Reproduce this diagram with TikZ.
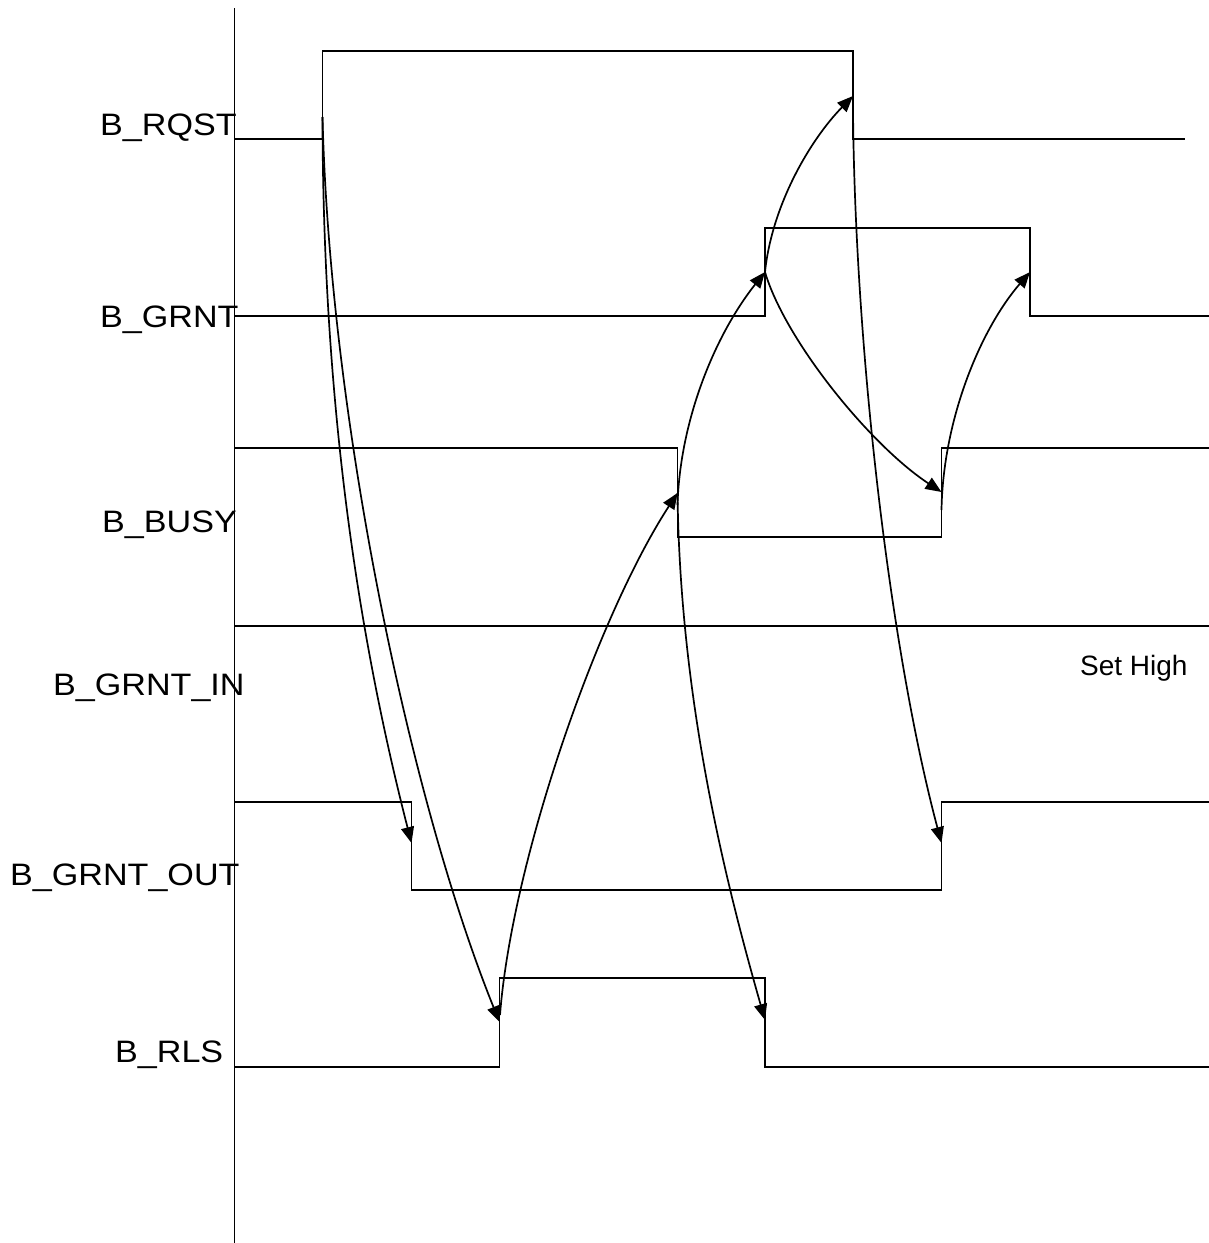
\documentclass[tikz,border=0pt]{standalone}
\usepackage{fontspec}
\setmainfont{Liberation Sans}
\newfontfamily\lblfont[FakeStretch=1.1]{Liberation Sans}
\usetikzlibrary{arrows.meta}
\begin{document}
\begin{tikzpicture}[x=1pt,y=-1pt,
  wave/.style={line width=1.8pt,line join=miter},
  dep/.style={line width=1.7pt,-{Triangle[length=16pt,width=13pt]}},
  sig/.style={anchor=base west,inner sep=0pt,font=\lblfont\fontsize{31}{31}\selectfont},
  note/.style={anchor=base west,inner sep=0pt,font=\fontsize{28}{28}\selectfont}]
\useasboundingbox (0,0) rectangle (1209,1243);
\fill[white] (0,0) rectangle (1209,1243);
% axis
\draw[wave] (234.5,8) -- (234.5,1243);
% labels
\node[sig] (lrqst) at (100,135) {B\_RQST};
\node[sig] (lgrnt) at (100,327) {B\_GRNT};
\node[sig] (lbusy) at (102,532) {B\_BUSY};
\node[sig] (lgin)  at (53,695)  {B\_GRNT\_IN};
\node[sig] (lgout) at (10,885)  {B\_GRNT\_OUT};
\node[sig] (lrls)  at (115,1062) {B\_RLS};
\node[note] (sethigh) at (1080,675) {Set High};
% waveforms
\draw[wave] (234,139) -- (322.5,139) -- (322.5,51) -- (853,51) -- (853,139) -- (1185,139);
\draw[wave] (234,316) -- (765,316) -- (765,228) -- (1030,228) -- (1030,316) -- (1209,316);
\draw[wave] (234,448) -- (677.5,448) -- (677.5,537) -- (941.5,537) -- (941.5,448) -- (1209,448);
\draw[wave] (234,626) -- (1209,626);
\draw[wave] (234,802) -- (411.5,802) -- (411.5,890) -- (941.5,890) -- (941.5,802) -- (1209,802);
\draw[wave] (234,1067) -- (499.5,1067) -- (499.5,978) -- (765,978) -- (765,1067) -- (1209,1067);
% edge coordinates
\coordinate (rqstUp) at (322.5,117);
\coordinate (rqstDn) at (853,96);
\coordinate (rqstDnS) at (853,110);
\coordinate (grntUp) at (765,272);
\coordinate (grntDn) at (1030,272);
\coordinate (busyDn) at (677.5,493);
\coordinate (busyDnS) at (677.5,505);
\coordinate (busyUp) at (941.5,492);
\coordinate (busyUpS) at (941.5,510);
\coordinate (goutDn) at (411.5,843);
\coordinate (goutUp) at (941.5,843);
\coordinate (rlsUp) at (499.5,1022);
\coordinate (rlsUpS) at (500,1015);
\coordinate (rlsDn) at (765,1020);
% dependency arrows
\draw[dep] (rqstUp) .. controls (323,420) and (362,650) .. (goutDn);
\draw[dep] (rqstUp) .. controls (330,420) and (410,800) .. (rlsUp);
\draw[dep] (rlsUpS) .. controls (512,860) and (598,615) .. (busyDn);
\draw[dep] (busyDnS) .. controls (680,420) and (715,335) .. (grntUp);
\draw[dep] (grntUp) .. controls (772,205) and (810,140) .. (rqstDn);
\draw[dep] (grntUp) .. controls (785,340) and (870,445) .. (busyUp);
\draw[dep] (busyUpS) .. controls (943,420) and (980,330) .. (grntDn);
\draw[dep] (rqstDnS) .. controls (855,350) and (890,650) .. (goutUp);
\draw[dep] (busyDn) .. controls (680,700) and (725,880) .. (rlsDn);
\end{tikzpicture}
\end{document}
